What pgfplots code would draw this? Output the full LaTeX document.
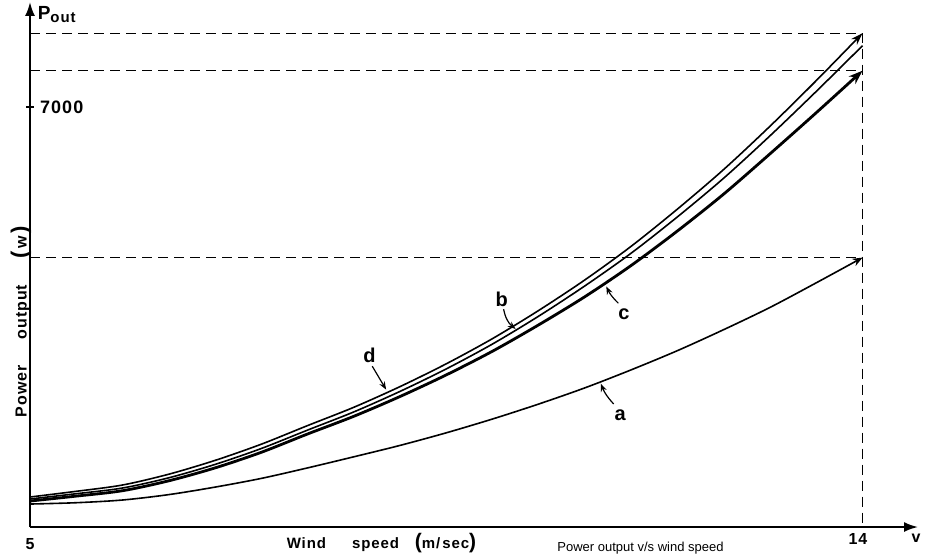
\documentclass[border=0pt]{standalone}
\usepackage{fontspec}
\setmainfont{Liberation Sans}
\newfontfamily\lsp[LetterSpace=6]{Liberation Sans}
\usepackage{pgfplots}
\pgfplotsset{compat=1.18}
\usetikzlibrary{arrows.meta}
\tikzset{
  dl/.style={black, line width=0.6pt, dash pattern=on 5pt off 3pt},
  lab/.style={font=\lsp\bfseries\fontsize{10}{10}\selectfont, inner sep=0pt},
}
\begin{document}
\begin{tikzpicture}
\begin{axis}[
  scale only axis, width=444pt, height=262.5pt,
  xmin=5, xmax=14.6, ymin=0, ymax=8750,
  axis x line=bottom, axis y line=left,
  axis line style={line width=1pt},
  x axis line style={-{Latex[length=7pt,width=5pt]}},
  y axis line style={-{Latex[length=7pt,width=5pt]}},
  xtick=\empty, ytick={7000}, yticklabels={7000},
  yticklabel style={anchor=west, xshift=3.5pt, font=\lsp\bfseries\fontsize{9}{9}\selectfont},
  major tick length=4pt, tick align=center, tick style={black, line width=0.8pt},
  clip=false,
]
% dashed construction lines
\addplot[dl] coordinates {(5,8230) (14,8230) (14,0)};
\addplot[dl] coordinates {(5,7605) (14,7605)};
\addplot[dl] coordinates {(5,4490) (14,4490)};
% curve d
\addplot[black, line width=0.8pt, smooth, -{Stealth[length=6pt,width=4pt]}] coordinates {
 (5,500) (5.5,595) (6,700) (6.5,880) (7,1110) (7.5,1380) (8,1690) (8.5,1995) (9,2340)
 (9.5,2720) (10,3140) (10.5,3610) (11,4120) (11.5,4680) (12,5300) (12.5,5960) (13,6680)
 (13.5,7440) (14,8230)};
% curve b
\addplot[black, line width=0.8pt, smooth] coordinates {
 (5,467) (5.5,555) (6,650) (6.5,820) (7,1043) (7.5,1308) (8,1615) (8.5,1918) (9,2260)
 (9.5,2635) (10,3050) (10.5,3515) (11,4020) (11.5,4565) (12,5170) (12.5,5815) (13,6520)
 (13.5,7260) (14,8022)};
% curve c
\addplot[black, line width=1.4pt, smooth, -{Stealth[length=7pt,width=5pt]}] coordinates {
 (5,433) (5.5,515) (6,605) (6.5,770) (7,985) (7.5,1245) (8,1550) (8.5,1845) (9,2175)
 (9.5,2535) (10,2930) (10.5,3370) (11,3840) (11.5,4360) (12,4935) (12.5,5550) (13,6220)
 (13.5,6905) (14,7605)};
% curve a
\addplot[black, line width=0.8pt, smooth, -{Stealth[length=5pt,width=4pt]}] coordinates {
 (5,383) (5.5,405) (6,450) (6.5,540) (7,665) (7.5,810) (8,985) (8.5,1170) (9,1360)
 (9.5,1570) (10,1800) (10.5,2050) (11,2320) (11.5,2620) (12,2940) (12.5,3290) (13,3660)
 (13.5,4070) (14,4490)};

% curve labels
\node[lab] at (axis cs:8.67,2860) {d};
\draw[line width=0.6pt, -{Stealth[length=4pt,width=3pt]}] (axis cs:8.70,2680) -- (axis cs:8.85,2290);
\node[lab] at (axis cs:10.10,3800) {b};
\draw[line width=0.6pt, -{Stealth[length=4pt,width=3pt]}] (axis cs:10.12,3630) to[bend right=20] (axis cs:10.25,3300);
\node[lab] at (axis cs:11.42,3550) {c};
\draw[line width=0.6pt, -{Stealth[length=4pt,width=3pt]}] (axis cs:11.36,3730) to[bend left=10] (axis cs:11.23,4010);
\node[lab] at (axis cs:11.38,1860) {a};
\draw[line width=0.6pt, -{Stealth[length=4pt,width=3pt]}] (axis cs:11.31,2050) to[bend left=10] (axis cs:11.17,2390);

% axis texts
\node[anchor=base west, font=\lsp\bfseries, inner sep=0pt] at (axis cs:5.08,8450)
  {\fontsize{9.5}{9.5}\selectfont P\raisebox{-1.5pt}{\fontsize{7.5}{7.5}\selectfont out}};
\node[anchor=north, font=\lsp\bfseries\fontsize{8}{8}\selectfont, inner sep=0pt] at (axis cs:5.0,0) [yshift=-5.5pt] {5};
\node[anchor=north, font=\lsp\bfseries\fontsize{8}{8}\selectfont, inner sep=0pt] at (axis cs:13.95,0) [yshift=-3pt] {14};
\node[anchor=north, font=\lsp\bfseries\fontsize{8}{8}\selectfont, inner sep=0pt] at (axis cs:14.58,0) [yshift=-3.5pt] {v};
\node[anchor=north, font=\lsp\bfseries\fontsize{7.5}{7.5}\selectfont, inner sep=0pt] at (axis cs:8.8,0) [yshift=-3pt]
  {Wind\hspace{13pt}speed\hspace{8pt}{\fontsize{10.5}{10.5}\selectfont(}m/\hspace{1pt}sec{\fontsize{10.5}{10.5}\selectfont)}};
\node[rotate=90, font=\lsp\bfseries\fontsize{8}{8}\selectfont, inner sep=0pt] at ([xshift=-4.5pt]axis cs:5,3420)
  {Power\hspace{13pt}output\hspace{13pt}{\fontsize{11}{11}\selectfont(}\,w\,{\fontsize{11}{11}\selectfont)}};
\node[anchor=north, font=\fontsize{6.5}{6.5}\selectfont, inner sep=0pt] at (axis cs:11.6,0) [yshift=-7.3pt]
  {Power output v/s wind speed};
\end{axis}
\pgfresetboundingbox
\path ([xshift=-15pt,yshift=-13.5pt]current axis.south west) rectangle ([xshift=7pt,yshift=1pt]current axis.north east);
\end{tikzpicture}
\end{document}
